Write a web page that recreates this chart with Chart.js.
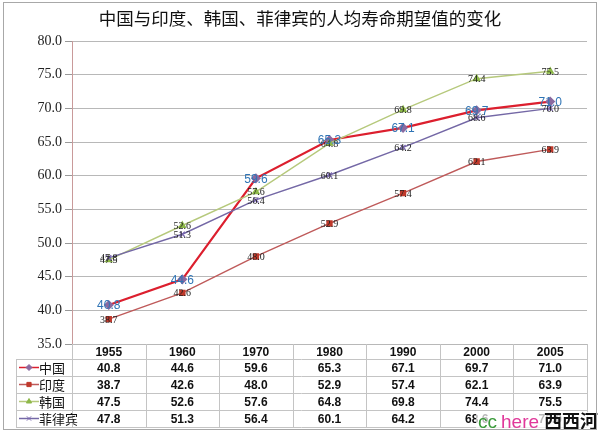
<!DOCTYPE html>
<html>
<head>
<meta charset="utf-8">
<script src="https://cdn.jsdelivr.net/npm/chart.js@4"></script>
<style>
  body { margin: 0; background: #fff; }
  #wrap { width: 600px; height: 435px; position: relative; }
</style>
</head>
<body>
<div id="wrap"><canvas id="lifeChart" width="600" height="435"></canvas></div>
<script>
// data
const years = ['1955', '1960', '1970', '1980', '1990', '2000', '2005'];
const seriesNames = ['中国', '印度', '韩国', '菲律宾'];
const china = [40.8, 44.6, 59.6, 65.3, 67.1, 69.7, 71.0];
const india = [38.7, 42.6, 48.0, 52.9, 57.4, 62.1, 63.9];
const korea = [47.5, 52.6, 57.6, 64.8, 69.8, 74.4, 75.5];
const philippines = [47.8, 51.3, 56.4, 60.1, 64.2, 68.6, 70.0];
const titleText = '中国与印度、韩国、菲律宾的人均寿命期望值的变化';

const styles = [
    { line: '#dc1f2e', point: '#8a6aa0', shape: 'rectRot', width: 2.2, label: '#2f74b5', font: '12px "Liberation Sans"' },
    { line: '#bf5a5a', point: '#c0392b', shape: 'rect', width: 1.4, label: '#222', font: '10px "Liberation Serif"' },
    { line: '#b6c97c', point: '#8db848', shape: 'triangle', width: 1.4, label: '#222', font: '10px "Liberation Serif"' },
    { line: '#7468a6', point: '#7b68b0', shape: 'crossRot', width: 1.4, label: '#222', font: '10px "Liberation Serif"' }
];
const seriesData = [china, india, korea, philippines];

const datasets = seriesData.map(function (values, i) {
    return {
        label: seriesNames[i],
        data: values,
        borderColor: styles[i].line,
        backgroundColor: styles[i].point,
        pointBackgroundColor: styles[i].point,
        pointBorderColor: styles[i].point,
        pointStyle: styles[i].shape,
        pointRadius: 3.5,
        borderWidth: styles[i].width,
        tension: 0,
        order: 4 - i
    };
});

// value labels centred on each point
const labelPlugin = {
    id: 'valueLabels',
    afterDatasetsDraw(chart) {
        const ctx = chart.ctx;
        ctx.save();
        ctx.textAlign = 'center';
        ctx.textBaseline = 'middle';
        for (let i = seriesData.length - 1; i >= 0; i--) {
            const meta = chart.getDatasetMeta(i);
            ctx.font = styles[i].font;
            ctx.fillStyle = styles[i].label;
            meta.data.forEach(function (pt, j) {
                ctx.fillText(seriesData[i][j].toFixed(1), pt.x, pt.y + 1);
            });
        }
        ctx.restore();
    }
};

// title, data table and frame
const tablePlugin = {
    id: 'dataTable',
    afterDraw(chart) {
        const ctx = chart.ctx, xs = chart.scales.x, area = chart.chartArea;
        const band = (xs.right - xs.left) / years.length;
        const top = area.bottom, headH = 15, rowH = 17;
        const left = 16, right = xs.right;
        ctx.save();

        // title
        ctx.fillStyle = '#111';
        ctx.font = '17.5px "Noto Sans CJK SC"';
        ctx.textAlign = 'center';
        ctx.textBaseline = 'middle';
        ctx.fillText(titleText, 300, 18);

        // grid of the table
        ctx.strokeStyle = '#c4c4c4';
        ctx.lineWidth = 1;
        ctx.beginPath();
        for (let r = 0; r <= seriesNames.length; r++) {
            const y = Math.round(top + headH + r * rowH) + 0.5;
            ctx.moveTo(left, y); ctx.lineTo(right, y);
        }
        const bottom = top + headH + seriesNames.length * rowH;
        for (let c = 0; c <= years.length; c++) {
            const x = Math.round(xs.left + c * band) + 0.5;
            ctx.moveTo(x, top); ctx.lineTo(x, bottom);
        }
        ctx.moveTo(left + 0.5, top + headH); ctx.lineTo(left + 0.5, bottom);
        ctx.stroke();

        // header + values
        ctx.fillStyle = '#111';
        ctx.font = 'bold 12px "Liberation Sans"';
        years.forEach(function (yr, c) {
            const cx = xs.getPixelForValue(c);
            ctx.fillText(yr, cx, top + headH / 2 + 1);
            seriesData.forEach(function (vals, r) {
                ctx.fillText(vals[c].toFixed(1), cx, top + headH + r * rowH + rowH / 2 + 1);
            });
        });

        // legend keys in the row header
        seriesNames.forEach(function (name, r) {
            const cy = top + headH + r * rowH + rowH / 2;
            ctx.strokeStyle = styles[r].line;
            ctx.lineWidth = 1.5;
            ctx.beginPath();
            ctx.moveTo(19, cy); ctx.lineTo(39, cy);
            ctx.stroke();
            ctx.fillStyle = styles[r].point;
            ctx.strokeStyle = styles[r].point;
            ctx.lineWidth = 1;
            Chart.helpers.drawPoint(ctx, {
                pointStyle: styles[r].shape, radius: 3, rotation: 0, borderWidth: 1
            }, 29, cy);
            ctx.fillStyle = '#111';
            ctx.font = '13px "Noto Sans CJK SC"';
            ctx.textAlign = 'left';
            ctx.fillText(name, 39, cy + 1);
            ctx.textAlign = 'center';
        });

        // watermark
        ctx.fillStyle = 'rgba(255,255,255,0.7)';
        ctx.fillRect(476, 412, 120, 18);
        ctx.textAlign = 'left';
        ctx.textBaseline = 'alphabetic';
        ctx.font = '19px "Liberation Sans"';
        ctx.fillStyle = '#3a9a3a';
        ctx.fillText('cc', 478, 428);
        ctx.fillStyle = '#e0389a';
        ctx.fillText('here', 501, 428);
        ctx.fillStyle = '#111';
        ctx.font = 'bold 18px "Noto Sans CJK SC"';
        ctx.fillText('西西河', 544, 428);

        // outer frame
        ctx.strokeStyle = '#a8a8a8';
        ctx.strokeRect(3.5, 2.5, 593, 427);
        ctx.restore();
    }
};

new Chart(document.getElementById('lifeChart'), {
    type: 'line',
    data: { labels: years, datasets: datasets },
    options: {
        responsive: false,
        animation: false,
        layout: { padding: { left: 10, right: 13, top: 41, bottom: 91 } },
        plugins: {
            legend: { display: false },
            title: { display: false },
            tooltip: { enabled: false }
        },
        scales: {
            x: {
                display: false,
                offset: true
            },
            y: {
                min: 35,
                max: 80,
                afterFit: function (s) { s.width = 62; },
                ticks: {
                    stepSize: 5,
                    padding: 3,
                    color: '#222',
                    font: { family: '"Liberation Serif"', size: 14 },
                    callback: function (v) { return Number(v).toFixed(1); }
                },
                grid: { color: '#b8b8b8', tickLength: 7, tickColor: '#999' },
                border: { color: '#c99a9a' }
            }
        }
    },
    plugins: [labelPlugin, tablePlugin]
});
</script>
</body>
</html>
